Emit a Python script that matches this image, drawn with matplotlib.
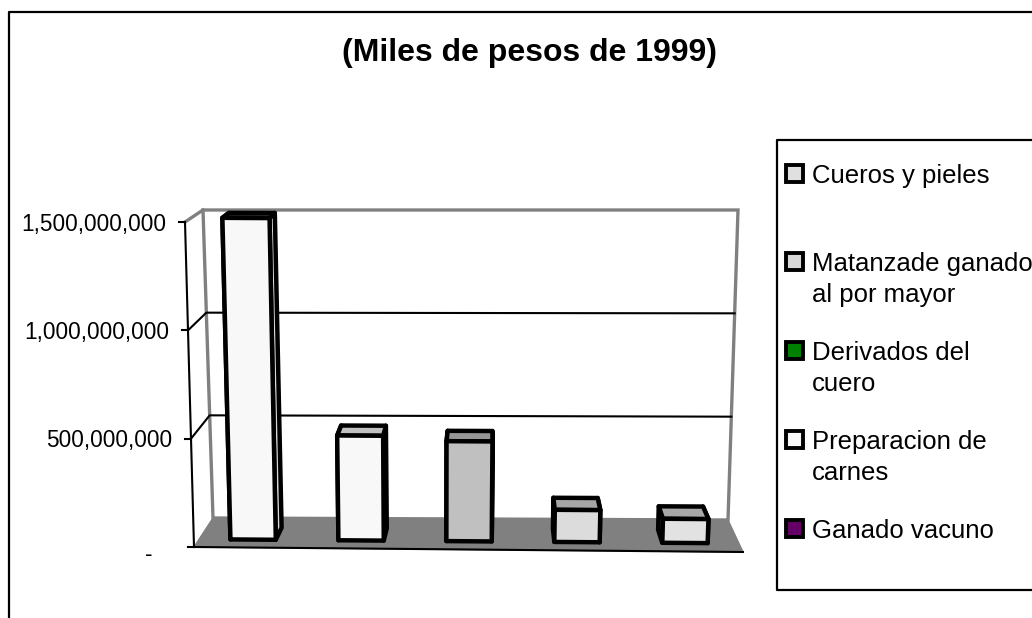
import matplotlib
matplotlib.use("Agg")
import matplotlib.pyplot as plt
from matplotlib.patches import Polygon, Rectangle

plt.rcParams['font.family'] = ['Liberation Sans', 'DejaVu Sans']

# datos (miles de pesos de 1999)
title = "(Miles de pesos de 1999)"
values = [1.505e9, 0.49e9, 0.467e9, 0.15e9, 0.112e9]
front_colors = ['#f8f8f8', '#f8f8f8', '#c0c0c0', '#dcdcdc', '#e2e2e2']
top_colors = ['#404040', '#c0c0c0', '#969696', '#a6a6a6', '#a8a8a8']
side_colors = ['#d8d8d8', '#d8d8d8', '#a0a0a0', '#bcbcbc', '#c0c0c0']
legend_labels = ['Cueros y pieles', 'Matanzade ganado\nal por mayor',
                 'Derivados del\ncuero', 'Preparacion de\ncarnes', 'Ganado vacuno']
legend_colors = ['#e0e0e0', '#d8d8d8', '#008000', '#f8f8f8', '#660066']
yticks = [0, 5e8, 1e9, 1.5e9]
ytick_labels = ['-', '500,000,000', '1,000,000,000', '1,500,000,000']
vmax = 1.5e9

# esquinas de la caja 3D en pixeles: (profundidad, valor, categoria)
CORNERS = {
    (0, 0, 0): (194, 547), (0, 0, 1): (743, 552),
    (0, 1, 0): (185, 222), (0, 1, 1): (756, 226),
    (1, 0, 0): (213, 518), (1, 0, 1): (728, 520),
    (1, 1, 0): (203, 210), (1, 1, 1): (738, 210),
}


def proj(u, v, w):
    """u: posicion horizontal 0..1, v: valor/vmax, w: profundidad 0..1"""
    x = y = 0.0
    for dw in (0, 1):
        for dv in (0, 1):
            for du in (0, 1):
                wt = ((w if dw else 1 - w) * (v if dv else 1 - v) *
                      (u if du else 1 - u))
                cx, cy = CORNERS[(dw, dv, du)]
                x += wt * cx
                y += wt * cy
    return x, y


fig = plt.figure(figsize=(10.32, 6.18), dpi=100)
ax = fig.add_axes([0, 0, 1, 1])
ax.set_xlim(0, 1032)
ax.set_ylim(618, 0)
ax.axis('off')

# marco exterior
ax.plot([9, 9, 1040], [640, 12, 12], color='black', lw=1.6)

ax.text(530, 53, title, fontsize=23, fontweight='bold', ha='center', va='center')

gray = '#808080'
# pared de fondo
ax.add_patch(Polygon([proj(0, 0, 1), proj(1, 0, 1), proj(1, 1, 1), proj(0, 1, 1)],
                     closed=True, facecolor='white', edgecolor=gray, lw=2.4, zorder=1))
# pared izquierda
ax.plot(*zip(proj(0, 1, 0), proj(0, 1, 1)), color=gray, lw=2.4, zorder=1)

# lineas de division
for t in yticks[1:-1]:
    v = t / vmax
    pts = [proj(0, v, 0), proj(0, v, 1), proj(1, v, 1)]
    ax.plot(*zip(*pts), color='black', lw=1.5, zorder=2)

# piso
ax.add_patch(Polygon([proj(0, 0, 0), proj(1, 0, 0), proj(1, 0, 1), proj(0, 0, 1)],
                     closed=True, facecolor=gray, edgecolor=gray, lw=1, zorder=2))
ax.plot(*zip(proj(0, 0, 0), proj(1, 0, 0)), color='black', lw=1.5, zorder=3)

# eje vertical
ax.plot(*zip(proj(0, 0, 0), proj(0, 1, 0)), color='black', lw=1.5, zorder=3)
for t, lab in zip(yticks, ytick_labels):
    x, y = proj(0, t / vmax, 0)
    ax.plot([x - 6, x], [y, y], color='black', lw=1.5, zorder=3)
    if lab == '-':
        ax.text(x - 42, y + 7, lab, fontsize=16.3, ha='right', va='center')
    else:
        ax.text(x - 19, y + 2, lab, fontsize=16.3, ha='right', va='center')

# barras
n = len(values)
hw = 0.21
w0, w1 = 0.27, 0.68
for i, val in enumerate(values):
    u0 = (i + 0.5 - hw) / n
    u1 = (i + 0.5 + hw) / n
    v = val / vmax
    kw = dict(closed=True, edgecolor='black', lw=3.2, joinstyle='round', zorder=4)
    left = [proj(u0, 0, w0), proj(u0, 0, w1), proj(u0, v, w1), proj(u0, v, w0)]
    right = [proj(u1, 0, w0), proj(u1, 0, w1), proj(u1, v, w1), proj(u1, v, w0)]
    top = [proj(u0, v, w0), proj(u1, v, w0), proj(u1, v, w1), proj(u0, v, w1)]
    front = [proj(u0, 0, w0), proj(u1, 0, w0), proj(u1, v, w0), proj(u0, v, w0)]
    ax.add_patch(Polygon(left, facecolor=side_colors[i], **kw))
    ax.add_patch(Polygon(right, facecolor=side_colors[i], **kw))
    ax.add_patch(Polygon(top, facecolor=top_colors[i], **kw))
    ax.add_patch(Polygon(front, facecolor=front_colors[i], **kw))

# leyenda
lx, ly, lbottom = 777, 140, 590
ax.plot([1040, lx, lx, 1040], [ly, ly, lbottom, lbottom], color='black', lw=1.6, zorder=5)
step = 88.8
for k, (lab, col) in enumerate(zip(legend_labels, legend_colors)):
    yc = ly + 33 + k * step
    ax.add_patch(Rectangle((786, yc - 8.5), 17, 17, facecolor=col, edgecolor='black',
                           lw=2.8, zorder=5))
    for j, line in enumerate(lab.split('\n')):
        ax.text(812, yc + j * 31, line, fontsize=18.5, ha='left',
                va='center_baseline', zorder=5)

fig.savefig('out.png', dpi=100)
